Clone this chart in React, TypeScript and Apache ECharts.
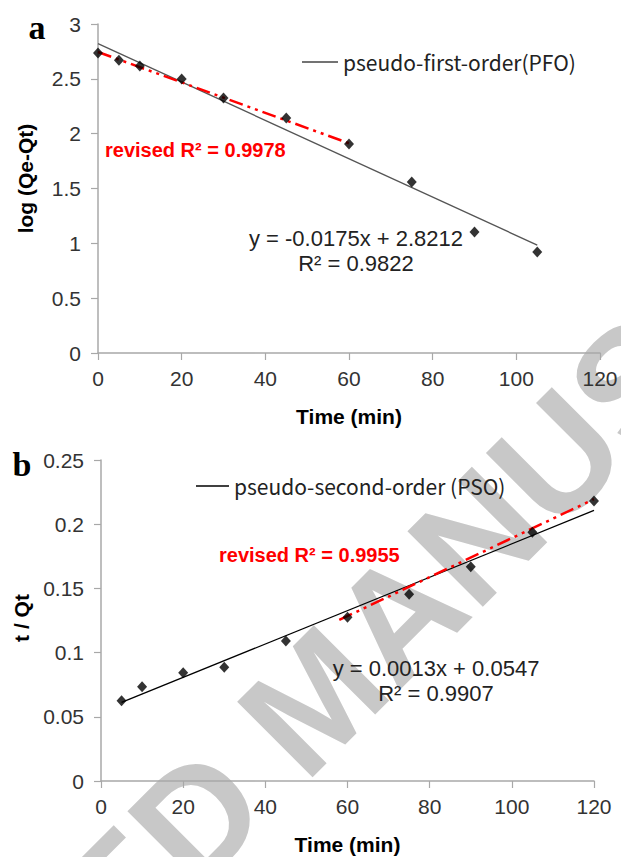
import React, { useEffect, useRef } from "react";
import * as echarts from "echarts";

// Panel a: pseudo-first-order
const pfoTime = [0, 5, 10, 20, 30, 45, 60, 75, 90, 105];
const pfoLog = [2.735, 2.67, 2.617, 2.498, 2.325, 2.143, 1.906, 1.559, 1.103, 0.921];
const pfoFitX = [0, 105];
const pfoFitY = [2.8212, 0.984];
const pfoRevX = [0, 60];
const pfoRevY = [2.745, 1.912];

// Panel b: pseudo-second-order
const psoTime = [5, 10, 20, 30, 45, 60, 75, 90, 105, 120];
const psoTQ = [0.0625, 0.0734, 0.0843, 0.0885, 0.109, 0.1275, 0.1454, 0.1669, 0.1937, 0.218];
const psoFitX = [5, 120];
const psoFitY = [0.0612, 0.2107];
const psoRevX = [58, 120];
const psoRevY = [0.1254, 0.2195];

const xTicks = [0, 20, 40, 60, 80, 100, 120];
const pfoName = "pseudo-first-order(PFO)";
const psoName = "pseudo-second-order (PSO)";

const SANS = '"Liberation Sans", Arial, sans-serif';
const JP = '"Noto Sans CJK JP", "DejaVu Sans", sans-serif';
const AXIS_GRAY = "#a8a8a8";
const REV_DASH = [14, 5, 3, 5, 3, 5];

const zip = (a: number[], b: number[]) => a.map((v, i) => [v, b[i]]);

function xAxisCfg(gridIndex: number) {
  return {
    gridIndex,
    type: "value",
    min: xTicks[0],
    max: xTicks[xTicks.length - 1],
    interval: 20,
    name: "Time (min)",
    nameLocation: "middle",
    nameGap: 53,
    nameTextStyle: { fontSize: 21, fontWeight: "bold", color: "#000", fontFamily: SANS },
    axisLine: { show: true, onZero: false, lineStyle: { color: AXIS_GRAY, width: 1.5 } },
    axisTick: { show: true, length: 7, inside: false, lineStyle: { color: AXIS_GRAY, width: 1.2 } },
    axisLabel: { fontSize: 21, color: "#333", margin: 15, fontFamily: SANS },
    splitLine: { show: false },
  };
}

function yAxisCfg(gridIndex: number, max: number, interval: number, name: string, shift: number) {
  return {
    gridIndex,
    type: "value",
    min: 0,
    max,
    interval,
    name,
    nameLocation: "middle",
    nameRotate: 90,
    nameGap: 62,
    nameTextStyle: {
      fontSize: 21,
      fontWeight: "bold",
      color: "#000",
      fontFamily: SANS,
      padding: [0, 0, 0, shift],
    },
    axisLine: { show: true, onZero: false, lineStyle: { color: AXIS_GRAY, width: 1.5 } },
    axisTick: { show: true, length: 7, inside: false, lineStyle: { color: AXIS_GRAY, width: 1.2 } },
    axisLabel: { fontSize: 21, color: "#333", margin: 17, fontFamily: SANS },
    splitLine: { show: false },
  };
}

function txt(
  text: string,
  x: number,
  y: number,
  font: { size: number; weight?: string; family?: string; color?: string },
  align = "center"
) {
  return {
    type: "text",
    x,
    y,
    z: 10,
    style: {
      text,
      fill: font.color || "#222",
      fontSize: font.size,
      fontWeight: font.weight || "normal",
      fontFamily: font.family || SANS,
      align,
      verticalAlign: "middle",
      textAlign: align,
      textVerticalAlign: "middle",
    },
  };
}

function legendCfg(name: string, left: number, top: number, width: number, color: string) {
  return {
    data: [{ name, icon: "rect", itemStyle: { color } }],
    left,
    top,
    padding: 0,
    itemWidth: width,
    itemHeight: 1.4,
    selectedMode: false,
    textStyle: { fontSize: 21, color: "#222", fontFamily: JP, lineHeight: 24 },
  };
}

export default function App() {
  const ref = useRef<HTMLDivElement>(null);

  useEffect(() => {
    if (!ref.current) return;
    const chart = echarts.init(ref.current, null, { renderer: "svg" });
    const option: any = {
      animation: false,
      backgroundColor: "#fff",
      grid: [
        { left: 98, top: 24, width: 502, height: 329 },
        { left: 101, top: 460, width: 493, height: 321 },
      ],
      xAxis: [xAxisCfg(0), xAxisCfg(1)],
      yAxis: [
        yAxisCfg(0, 3, 0.5, "log (Qe-Qt)", 20),
        yAxisCfg(1, 0.25, 0.05, "t / Qt", 5),
      ],
      legend: [
        legendCfg(pfoName, 302, 50, 36, "#444"),
        legendCfg(psoName, 196, 474, 33, "#000"),
      ],
      graphic: [
        {
          type: "text",
          x: 316,
          y: 698,
          z: -1,
          rotation: Math.PI / 4,
          silent: true,
          style: {
            text: "ACCEPTED MANUSCRIPT",
            fill: "#c8c8c8",
            fontSize: 155,
            fontWeight: "bold",
            fontFamily: SANS,
            align: "center",
            verticalAlign: "middle",
            textAlign: "center",
            textVerticalAlign: "middle",
          },
        },
        txt("a", 37, 27, { size: 34, weight: "bold", family: '"Liberation Serif", "Times New Roman", serif', color: "#000" }),
        txt("b", 22, 464, { size: 34, weight: "bold", family: '"Liberation Serif", "Times New Roman", serif', color: "#000" }),
        txt("revised R² = 0.9978", 105, 150, { size: 20, weight: "bold", color: "#ff0000" }, "left"),
        txt("revised R² = 0.9955", 219, 555, { size: 20, weight: "bold", color: "#ff0000" }, "left"),
        txt("y = -0.0175x + 2.8212", 356, 238, { size: 22 }),
        txt("R² = 0.9822", 356, 263, { size: 22 }),
        txt("y = 0.0013x + 0.0547", 436, 668, { size: 22 }),
        txt("R² = 0.9907", 436, 693, { size: 22 }),
      ],
      series: [
        {
          name: pfoName,
          type: "line",
          xAxisIndex: 0,
          yAxisIndex: 0,
          data: zip(pfoFitX, pfoFitY),
          symbol: "none",
          lineStyle: { color: "#555", width: 1.3 },
          itemStyle: { color: "#555" },
          z: 3,
        },
        {
          name: "PFO revised",
          type: "line",
          xAxisIndex: 0,
          yAxisIndex: 0,
          data: zip(pfoRevX, pfoRevY),
          symbol: "none",
          lineStyle: { color: "#ff0000", width: 2.5, type: REV_DASH },
          z: 4,
        },
        {
          name: "PFO data",
          type: "scatter",
          xAxisIndex: 0,
          yAxisIndex: 0,
          data: zip(pfoTime, pfoLog),
          symbol: "diamond",
          symbolSize: [10, 11],
          itemStyle: { color: "#000" },
          z: 5,
        },
        {
          name: psoName,
          type: "line",
          xAxisIndex: 1,
          yAxisIndex: 1,
          data: zip(psoFitX, psoFitY),
          symbol: "none",
          lineStyle: { color: "#000", width: 1.3 },
          itemStyle: { color: "#000" },
          z: 3,
        },
        {
          name: "PSO revised",
          type: "line",
          xAxisIndex: 1,
          yAxisIndex: 1,
          data: zip(psoRevX, psoRevY),
          symbol: "none",
          lineStyle: { color: "#ff0000", width: 2.5, type: REV_DASH },
          z: 4,
        },
        {
          name: "PSO data",
          type: "scatter",
          xAxisIndex: 1,
          yAxisIndex: 1,
          data: zip(psoTime, psoTQ),
          symbol: "diamond",
          symbolSize: [10, 11],
          itemStyle: { color: "#000" },
          z: 5,
        },
      ],
    };
    chart.setOption(option);
    return () => chart.dispose();
  }, []);

  return (
    <div
      ref={ref}
      style={{ position: "absolute", left: 0, top: 0, width: 621, height: 857, background: "#fff" }}
    />
  );
}
